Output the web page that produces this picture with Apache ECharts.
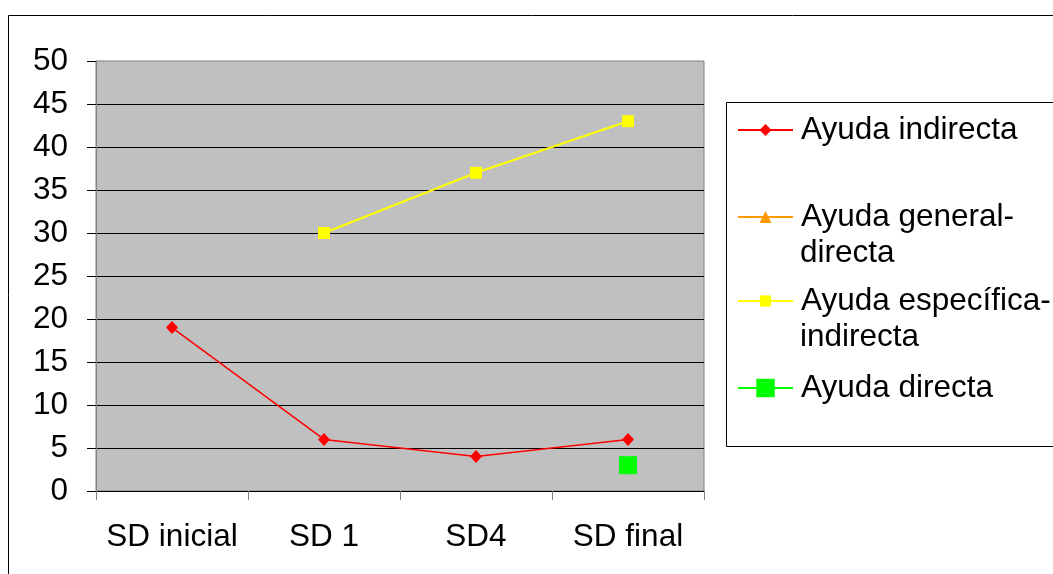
<!DOCTYPE html>
<html>
<head>
<meta charset="utf-8">
<script src="https://cdn.jsdelivr.net/npm/echarts@6/dist/echarts.min.js"></script>
<style>html,body{margin:0;padding:0;background:#fff;}#c{width:1053px;height:574px;}</style>
</head>
<body>
<div id="c"></div>
<script>
const categories = ['SD inicial', 'SD 1', 'SD4', 'SD final'];
const yTicks = [0, 5, 10, 15, 20, 25, 30, 35, 40, 45, 50];
const seriesNames = ['Ayuda indirecta', 'Ayuda general-directa', 'Ayuda específica-indirecta', 'Ayuda directa'];
const ayudaIndirecta = [19, 6, 4, 6];
const ayudaGeneralDirecta = ['-', '-', '-', '-'];
const ayudaEspecificaIndirecta = ['-', 30, 37, 43];
const ayudaDirecta = ['-', '-', '-', 3];
const legendFirstLines = ['Ayuda indirecta', 'Ayuda general-', 'Ayuda específica-', 'Ayuda directa'];
const legendSecondLines = ['', 'directa', 'indirecta', ''];

const FONT = 'Liberation Sans, Arial, sans-serif';
const FS = 31.5;
const chart = echarts.init(document.getElementById('c'), null, {renderer: 'canvas'});

const legendCenters = [130, 217, 301, 388];
const legendItemHeights = [15, 15, 14, 23];
const legends = seriesNames.map((n, i) => ({
  data: [n],
  left: 737,
  top: legendCenters[i] - 18,
  orient: 'vertical',
  padding: 0,
  itemWidth: 55,
  itemHeight: legendItemHeights[i],
  selectedMode: false,
  formatter: () => legendFirstLines[i],
  textStyle: {fontFamily: FONT, fontSize: FS, color: '#000', lineHeight: 36, padding: [0, 0, 0, 3]}
}));

const graphics = [
  {type: 'rect', shape: {x: 8.5, y: 15.5, width: 1100, height: 600}, style: {fill: 'none', stroke: '#000', lineWidth: 1}, z: 0},
  {type: 'rect', shape: {x: 726.5, y: 102.5, width: 400, height: 344}, style: {fill: '#fff', stroke: '#000', lineWidth: 1}, z: 0}
];
legendSecondLines.forEach((t, i) => {
  if (t) graphics.push({type: 'text', x: 800, y: legendCenters[i] + 36, z: 10,
    style: {text: t, font: FS + 'px ' + FONT, fill: '#000', verticalAlign: 'middle', align: 'left'}});
});

chart.setOption({
  animation: false,
  backgroundColor: '#fff',
  graphic: graphics,
  legend: legends,
  grid: {left: 96, top: 61, width: 608, height: 430, show: true, backgroundColor: '#C0C0C0', borderColor: '#808080', borderWidth: 1, containLabel: false},
  xAxis: {
    type: 'category', data: categories, boundaryGap: true,
    axisLine: {show: true, lineStyle: {color: '#000', width: 1}},
    axisTick: {show: true, length: 9, interval: 0, lineStyle: {color: '#808080'}},
    axisLabel: {fontFamily: FONT, fontSize: FS, color: '#000', margin: 30, interval: 0}
  },
  yAxis: {
    type: 'value', min: yTicks[0], max: yTicks[yTicks.length - 1], interval: 5,
    axisLine: {show: true, lineStyle: {color: '#808080'}},
    axisTick: {show: true, length: 9, lineStyle: {color: '#000'}},
    axisLabel: {fontFamily: FONT, fontSize: FS, color: '#000', margin: 28},
    splitLine: {show: true, showMaxLine: false, lineStyle: {color: '#000', width: 1}}
  },
  series: [
    {name: seriesNames[0], type: 'line', data: ayudaIndirecta, color: '#FF0000', symbol: 'diamond', symbolSize: [12, 13], lineStyle: {width: 1.5, color: '#FF0000'}, itemStyle: {color: '#FF0000'}},
    {name: seriesNames[1], type: 'line', data: ayudaGeneralDirecta, color: '#FF9900', symbol: 'triangle', symbolSize: 12, lineStyle: {width: 1.5, color: '#FF9900'}, itemStyle: {color: '#FF9900'}},
    {name: seriesNames[2], type: 'line', data: ayudaEspecificaIndirecta, color: '#FFFF00', symbol: 'rect', symbolSize: 12, lineStyle: {width: 2, color: '#FFFF00'}, itemStyle: {color: '#FFFF00'}},
    {name: seriesNames[3], type: 'line', data: ayudaDirecta, color: '#00FF00', symbol: 'rect', symbolSize: 18, lineStyle: {width: 1.5, color: '#00FF00'}, itemStyle: {color: '#00FF00'}}
  ]
});
</script>
</body>
</html>
